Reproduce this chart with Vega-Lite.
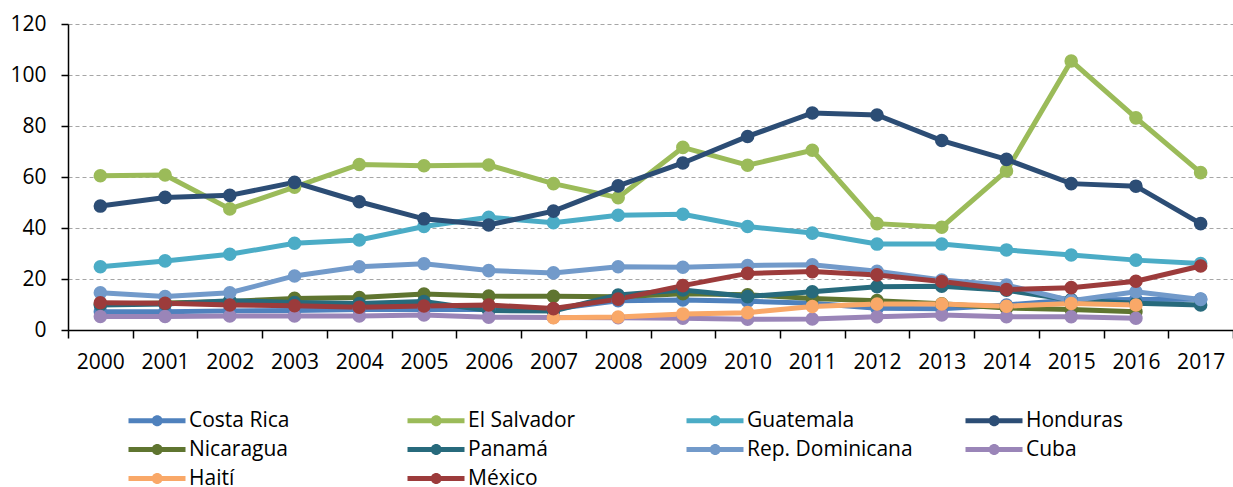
{
  "$schema": "https://vega.github.io/schema/vega-lite/v6.json",
  "autosize": "none",
  "width": 1165,
  "height": 306,
  "padding": {"left": 68, "top": 24, "right": 0, "bottom": 157},
  "background": "white",
  "config": {
    "view": {"stroke": null},
    "axis": {
      "labelFont": "Open Sans",
      "labelFontSize": 21,
      "labelColor": "#000000",
      "domainColor": "#000000",
      "domainWidth": 1.5,
      "tickColor": "#000000",
      "tickWidth": 1.5,
      "title": null
    }
  },
  "data": {
    "values": [
      {"country": "Costa Rica", "year": "2000", "value": 7.2},
      {"country": "Costa Rica", "year": "2001", "value": 7.2},
      {"country": "Costa Rica", "year": "2002", "value": 7.5},
      {"country": "Costa Rica", "year": "2003", "value": 7.6},
      {"country": "Costa Rica", "year": "2004", "value": 8.0},
      {"country": "Costa Rica", "year": "2005", "value": 8.0},
      {"country": "Costa Rica", "year": "2006", "value": 8.0},
      {"country": "Costa Rica", "year": "2007", "value": 8.2},
      {"country": "Costa Rica", "year": "2008", "value": 11.5},
      {"country": "Costa Rica", "year": "2009", "value": 11.8},
      {"country": "Costa Rica", "year": "2010", "value": 11.3},
      {"country": "Costa Rica", "year": "2011", "value": 10.5},
      {"country": "Costa Rica", "year": "2012", "value": 8.5},
      {"country": "Costa Rica", "year": "2013", "value": 8.3},
      {"country": "Costa Rica", "year": "2014", "value": 9.8},
      {"country": "Costa Rica", "year": "2015", "value": 11.8},
      {"country": "Costa Rica", "year": "2016", "value": 12.0},
      {"country": "Costa Rica", "year": "2017", "value": 12.1},

      {"country": "El Salvador", "year": "2000", "value": 60.5},
      {"country": "El Salvador", "year": "2001", "value": 60.8},
      {"country": "El Salvador", "year": "2002", "value": 47.5},
      {"country": "El Salvador", "year": "2003", "value": 56.0},
      {"country": "El Salvador", "year": "2004", "value": 64.9},
      {"country": "El Salvador", "year": "2005", "value": 64.4},
      {"country": "El Salvador", "year": "2006", "value": 64.7},
      {"country": "El Salvador", "year": "2007", "value": 57.4},
      {"country": "El Salvador", "year": "2008", "value": 51.9},
      {"country": "El Salvador", "year": "2009", "value": 71.6},
      {"country": "El Salvador", "year": "2010", "value": 64.6},
      {"country": "El Salvador", "year": "2011", "value": 70.5},
      {"country": "El Salvador", "year": "2012", "value": 41.7},
      {"country": "El Salvador", "year": "2013", "value": 40.3},
      {"country": "El Salvador", "year": "2014", "value": 62.4},
      {"country": "El Salvador", "year": "2015", "value": 105.5},
      {"country": "El Salvador", "year": "2016", "value": 83.2},
      {"country": "El Salvador", "year": "2017", "value": 61.7},

      {"country": "Guatemala", "year": "2000", "value": 24.8},
      {"country": "Guatemala", "year": "2001", "value": 27.1},
      {"country": "Guatemala", "year": "2002", "value": 29.7},
      {"country": "Guatemala", "year": "2003", "value": 34.0},
      {"country": "Guatemala", "year": "2004", "value": 35.3},
      {"country": "Guatemala", "year": "2005", "value": 40.6},
      {"country": "Guatemala", "year": "2006", "value": 44.2},
      {"country": "Guatemala", "year": "2007", "value": 42.1},
      {"country": "Guatemala", "year": "2008", "value": 45.0},
      {"country": "Guatemala", "year": "2009", "value": 45.4},
      {"country": "Guatemala", "year": "2010", "value": 40.6},
      {"country": "Guatemala", "year": "2011", "value": 38.0},
      {"country": "Guatemala", "year": "2012", "value": 33.7},
      {"country": "Guatemala", "year": "2013", "value": 33.7},
      {"country": "Guatemala", "year": "2014", "value": 31.4},
      {"country": "Guatemala", "year": "2015", "value": 29.4},
      {"country": "Guatemala", "year": "2016", "value": 27.4},
      {"country": "Guatemala", "year": "2017", "value": 26.1},

      {"country": "Honduras", "year": "2000", "value": 48.6},
      {"country": "Honduras", "year": "2001", "value": 52.0},
      {"country": "Honduras", "year": "2002", "value": 52.8},
      {"country": "Honduras", "year": "2003", "value": 57.9},
      {"country": "Honduras", "year": "2004", "value": 50.3},
      {"country": "Honduras", "year": "2005", "value": 43.6},
      {"country": "Honduras", "year": "2006", "value": 41.2},
      {"country": "Honduras", "year": "2007", "value": 46.6},
      {"country": "Honduras", "year": "2008", "value": 56.5},
      {"country": "Honduras", "year": "2009", "value": 65.5},
      {"country": "Honduras", "year": "2010", "value": 75.9},
      {"country": "Honduras", "year": "2011", "value": 85.1},
      {"country": "Honduras", "year": "2012", "value": 84.3},
      {"country": "Honduras", "year": "2013", "value": 74.3},
      {"country": "Honduras", "year": "2014", "value": 66.9},
      {"country": "Honduras", "year": "2015", "value": 57.4},
      {"country": "Honduras", "year": "2016", "value": 56.4},
      {"country": "Honduras", "year": "2017", "value": 41.7},

      {"country": "Nicaragua", "year": "2000", "value": 10.2},
      {"country": "Nicaragua", "year": "2001", "value": 10.6},
      {"country": "Nicaragua", "year": "2002", "value": 11.2},
      {"country": "Nicaragua", "year": "2003", "value": 12.4},
      {"country": "Nicaragua", "year": "2004", "value": 12.7},
      {"country": "Nicaragua", "year": "2005", "value": 14.1},
      {"country": "Nicaragua", "year": "2006", "value": 13.3},
      {"country": "Nicaragua", "year": "2007", "value": 13.2},
      {"country": "Nicaragua", "year": "2008", "value": 13.0},
      {"country": "Nicaragua", "year": "2009", "value": 14.2},
      {"country": "Nicaragua", "year": "2010", "value": 13.8},
      {"country": "Nicaragua", "year": "2011", "value": 12.4},
      {"country": "Nicaragua", "year": "2012", "value": 11.5},
      {"country": "Nicaragua", "year": "2013", "value": 10.3},
      {"country": "Nicaragua", "year": "2014", "value": 8.6},
      {"country": "Nicaragua", "year": "2015", "value": 8.0},
      {"country": "Nicaragua", "year": "2016", "value": 7.2},

      {"country": "Panamá", "year": "2000", "value": 9.8},
      {"country": "Panamá", "year": "2001", "value": 10.2},
      {"country": "Panamá", "year": "2002", "value": 11.5},
      {"country": "Panamá", "year": "2003", "value": 10.8},
      {"country": "Panamá", "year": "2004", "value": 10.4},
      {"country": "Panamá", "year": "2005", "value": 11.2},
      {"country": "Panamá", "year": "2006", "value": 7.6},
      {"country": "Panamá", "year": "2007", "value": 7.5},
      {"country": "Panamá", "year": "2008", "value": 13.7},
      {"country": "Panamá", "year": "2009", "value": 15.7},
      {"country": "Panamá", "year": "2010", "value": 13.1},
      {"country": "Panamá", "year": "2011", "value": 15.0},
      {"country": "Panamá", "year": "2012", "value": 17.0},
      {"country": "Panamá", "year": "2013", "value": 17.2},
      {"country": "Panamá", "year": "2014", "value": 15.6},
      {"country": "Panamá", "year": "2015", "value": 11.8},
      {"country": "Panamá", "year": "2016", "value": 10.5},
      {"country": "Panamá", "year": "2017", "value": 9.8},

      {"country": "Rep. Dominicana", "year": "2000", "value": 14.6},
      {"country": "Rep. Dominicana", "year": "2001", "value": 13.1},
      {"country": "Rep. Dominicana", "year": "2002", "value": 14.6},
      {"country": "Rep. Dominicana", "year": "2003", "value": 21.2},
      {"country": "Rep. Dominicana", "year": "2004", "value": 24.8},
      {"country": "Rep. Dominicana", "year": "2005", "value": 26.0},
      {"country": "Rep. Dominicana", "year": "2006", "value": 23.3},
      {"country": "Rep. Dominicana", "year": "2007", "value": 22.4},
      {"country": "Rep. Dominicana", "year": "2008", "value": 24.8},
      {"country": "Rep. Dominicana", "year": "2009", "value": 24.6},
      {"country": "Rep. Dominicana", "year": "2010", "value": 25.3},
      {"country": "Rep. Dominicana", "year": "2011", "value": 25.6},
      {"country": "Rep. Dominicana", "year": "2012", "value": 23.0},
      {"country": "Rep. Dominicana", "year": "2013", "value": 19.6},
      {"country": "Rep. Dominicana", "year": "2014", "value": 17.6},
      {"country": "Rep. Dominicana", "year": "2015", "value": 11.5},
      {"country": "Rep. Dominicana", "year": "2016", "value": 15.0},
      {"country": "Rep. Dominicana", "year": "2017", "value": 12.0},

      {"country": "Cuba", "year": "2000", "value": 5.3},
      {"country": "Cuba", "year": "2001", "value": 5.3},
      {"country": "Cuba", "year": "2002", "value": 5.5},
      {"country": "Cuba", "year": "2003", "value": 5.5},
      {"country": "Cuba", "year": "2004", "value": 5.5},
      {"country": "Cuba", "year": "2005", "value": 5.9},
      {"country": "Cuba", "year": "2006", "value": 5.0},
      {"country": "Cuba", "year": "2007", "value": 4.9},
      {"country": "Cuba", "year": "2008", "value": 4.8},
      {"country": "Cuba", "year": "2009", "value": 4.6},
      {"country": "Cuba", "year": "2010", "value": 4.2},
      {"country": "Cuba", "year": "2011", "value": 4.3},
      {"country": "Cuba", "year": "2012", "value": 5.2},
      {"country": "Cuba", "year": "2013", "value": 5.9},
      {"country": "Cuba", "year": "2014", "value": 5.2},
      {"country": "Cuba", "year": "2015", "value": 5.2},
      {"country": "Cuba", "year": "2016", "value": 4.6},

      {"country": "Haití", "year": "2007", "value": 4.8},
      {"country": "Haití", "year": "2008", "value": 5.1},
      {"country": "Haití", "year": "2009", "value": 6.3},
      {"country": "Haití", "year": "2010", "value": 6.8},
      {"country": "Haití", "year": "2011", "value": 9.2},
      {"country": "Haití", "year": "2012", "value": 10.2},
      {"country": "Haití", "year": "2013", "value": 10.2},
      {"country": "Haití", "year": "2014", "value": 9.3},
      {"country": "Haití", "year": "2015", "value": 10.4},
      {"country": "Haití", "year": "2016", "value": 9.8},

      {"country": "México", "year": "2000", "value": 10.7},
      {"country": "México", "year": "2001", "value": 10.5},
      {"country": "México", "year": "2002", "value": 9.8},
      {"country": "México", "year": "2003", "value": 9.5},
      {"country": "México", "year": "2004", "value": 8.9},
      {"country": "México", "year": "2005", "value": 9.4},
      {"country": "México", "year": "2006", "value": 9.8},
      {"country": "México", "year": "2007", "value": 8.4},
      {"country": "México", "year": "2008", "value": 12.1},
      {"country": "México", "year": "2009", "value": 17.4},
      {"country": "México", "year": "2010", "value": 22.2},
      {"country": "México", "year": "2011", "value": 22.9},
      {"country": "México", "year": "2012", "value": 21.6},
      {"country": "México", "year": "2013", "value": 19.0},
      {"country": "México", "year": "2014", "value": 15.9},
      {"country": "México", "year": "2015", "value": 16.6},
      {"country": "México", "year": "2016", "value": 19.1},
      {"country": "México", "year": "2017", "value": 25.1}
    ]
  },
  "mark": {
    "type": "line",
    "strokeWidth": 5,
    "point": {"filled": true, "size": 185, "opacity": 1}
  },
  "encoding": {
    "x": {
      "field": "year",
      "type": "ordinal",
      "scale": {"paddingInner": 0, "paddingOuter": 0},
      "axis": {
        "labelAngle": 0,
        "tickBand": "extent",
        "tickSize": 8,
        "labelPadding": 13,
        "grid": false
      }
    },
    "y": {
      "field": "value",
      "type": "quantitative",
      "scale": {"domain": [0, 120], "nice": false},
      "axis": {
        "values": [0, 20, 40, 60, 80, 100, 120],
        "tickSize": 7,
        "labelPadding": 15,
        "grid": true,
        "gridDash": [4, 3],
        "gridColor": "#a6a6a6",
        "gridWidth": 1.2
      }
    },
    "color": {
      "field": "country",
      "type": "nominal",
      "sort": ["Costa Rica", "El Salvador", "Guatemala", "Honduras", "Nicaragua", "Panamá", "Rep. Dominicana", "Cuba", "Haití", "México"],
      "scale": {
        "domain": ["Costa Rica", "El Salvador", "Guatemala", "Honduras", "Nicaragua", "Panamá", "Rep. Dominicana", "Cuba", "Haití", "México"],
        "range": ["#4f81bd", "#9bbb59", "#4bacc6", "#2c4d75", "#5f7530", "#276a7c", "#729aca", "#9a85b8", "#f9a868", "#9c3b3b"]
      },
      "legend": {
        "title": null,
        "orient": "none",
        "legendX": 60,
        "legendY": 386,
        "direction": "horizontal",
        "columns": 4,
        "gridAlign": "all",
        "columnPadding": 52,
        "rowPadding": 7,
        "symbolType": "M -1 -0.25 L 4.7 -0.25 L 4.7 0.25 L -1 0.25 Z M 1.32 0 A 0.55 0.55 0 1 1 2.42 0 A 0.55 0.55 0 1 1 1.32 0 Z",
        "symbolSize": 400,
        "symbolStrokeWidth": 0,
        "labelFont": "Open Sans",
        "labelFontSize": 21,
        "labelColor": "#000000",
        "labelOffset": 40,
        "labelLimit": 300,
        "encode": {
          "symbols": {"update": {"fill": {"scale": "color", "field": "value"}, "opacity": {"value": 1}}}
        }
      }
    }
  }
}
